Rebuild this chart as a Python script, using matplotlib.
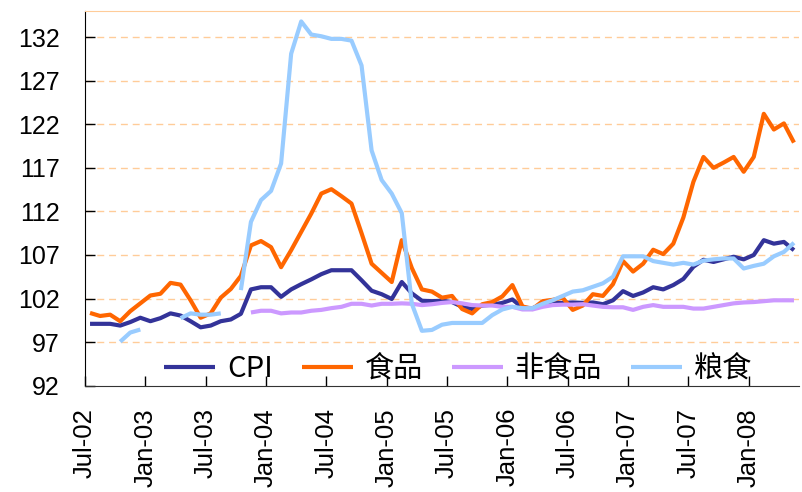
import numpy as np
import matplotlib
matplotlib.use("Agg")
import matplotlib.pyplot as plt

nan = np.nan

# x tick labels, one every 6 months (monthly data Jul-02 .. May-08)
tick_labels = ["Jul-02", "Jan-03", "Jul-03", "Jan-04", "Jul-04", "Jan-05",
               "Jul-05", "Jan-06", "Jul-06", "Jan-07", "Jul-07", "Jan-08"]

cpi = [99.1, 99.1, 99.1, 98.9, 99.3, 99.8, 99.4, 99.75, 100.3, 100.05,
       99.4, 98.7, 98.9, 99.4, 99.6, 100.25, 103.05, 103.3, 103.3, 102.2,
       103.05, 103.65, 104.2, 104.8, 105.25, 105.25, 105.25, 104.1, 102.9, 102.5,
       101.95, 103.9, 102.6, 101.75, 101.7, 101.75, 101.6, 101.05, 100.8, 101.2,
       101.3, 101.5, 101.9, 100.95, 100.9, 101.25, 101.5, 101.5, 101.55, 101.5,
       101.55, 101.35, 101.8, 102.85, 102.3, 102.7, 103.3, 103.05, 103.55, 104.25,
       105.65, 106.45, 106.2, 106.5, 106.8, 106.5, 107.0, 108.7, 108.3, 108.5,
       107.55]

food = [100.35, 100.0, 100.15, 99.4, 100.55, 101.45, 102.35, 102.55, 103.8, 103.6,
        101.8, 99.8, 100.3, 102.1, 103.1, 104.6, 108.1, 108.6, 107.9, 105.6,
        107.55, 109.65, 111.75, 114.05, 114.55, 113.75, 112.9, 109.5, 106.0, 104.95,
        103.9, 108.7, 105.5, 103.05, 102.8, 102.1, 102.3, 100.8, 100.3, 101.35,
        101.6, 102.25, 103.55, 101.1, 100.8, 101.7, 101.85, 102.1, 100.7, 101.2,
        102.5, 102.3, 103.65, 106.3, 105.1, 106.0, 107.6, 107.1, 108.3, 111.3,
        115.4, 118.25, 117.0, 117.6, 118.25, 116.55, 118.25, 123.2, 121.4, 122.1,
        119.9]

nonfood = [nan] * 16 + [
    100.4, 100.6, 100.6, 100.3, 100.4, 100.4, 100.6, 100.7, 100.9, 101.05,
    101.4, 101.4, 101.2, 101.4, 101.4, 101.45, 101.4, 101.25, 101.35, 101.5,
    101.6, 101.45, 101.25, 101.2, 101.2, 101.05, 101.05, 100.75, 100.75, 101.05,
    101.25, 101.3, 101.3, 101.35, 101.2, 101.05, 101.0, 101.0, 100.7, 101.05,
    101.25, 101.05, 101.05, 101.05, 100.85, 100.85, 101.05, 101.25, 101.45, 101.55,
    101.6, 101.7, 101.8, 101.8, 101.8]

grain = [nan, nan, nan, 97.05, 98.1, 98.45, nan, nan, nan, 99.75,
         100.3, 100.15, 100.15, 100.3, nan, 102.97, 110.8, 113.3, 114.35, 117.5,
         130.1, 133.8, 132.3, 132.1, 131.8, 131.8, 131.6, 128.75, 119.0, 115.6,
         114.05, 111.8, 101.4, 98.3, 98.4, 99.0, 99.2, 99.2, 99.2, 99.2,
         100.1, 100.75, 101.05, 100.9, 100.9, 101.4, 101.8, 102.3, 102.8, 102.95,
         103.35, 103.75, 104.5, 106.85, 106.85, 106.85, 106.3, 106.1, 105.9, 106.1,
         105.9, 106.35, 106.5, 106.6, 106.6, 105.45, 105.75, 106.0, 106.85, 107.35,
         108.4]

series_names = ["CPI", "食品", "非食品", "粮食"]
series_colors = ["#333399", "#FF6600", "#CC99FF", "#99CCFF"]

plt.rcParams['font.family'] = ['Liberation Sans', 'Noto Sans CJK SC']

fig = plt.figure(figsize=(8.03, 4.92), dpi=100)
ax = fig.add_axes([85 / 803, 1 - 385.7 / 492, 714 / 803, (385.7 - 11) / 492])

x = np.arange(len(cpi))
for vals, name, col in zip([cpi, food, nonfood, grain], series_names, series_colors):
    ax.plot(x, vals, color=col, lw=3, label=name, solid_joinstyle='round',
            solid_capstyle='butt', zorder=3)

ax.set_xlim(-0.5, len(cpi) - 0.5)
ax.set_ylim(92, 135)
ax.set_yticks(range(92, 133, 5))
ax.set_xticks(np.arange(0, len(cpi), 6)[:len(tick_labels)] - 0.5)
ax.set_xticklabels(tick_labels, rotation=90, va='top', ha='center')
ax.tick_params(axis='both', direction='in', length=7, width=1)
ax.tick_params(axis='y', pad=18, labelsize=18)
ax.tick_params(axis='x', pad=16, labelsize=18.5)

# dashed gridlines
for v in range(97, 133, 5):
    ax.axhline(v, color='#FFCC99', lw=1, ls=(0, (5, 3.5)), zorder=0.9)

ax.spines['right'].set_visible(False)
ax.spines['top'].set_color('#FFCC99')
ax.spines['left'].set_color('black')
ax.spines['bottom'].set_color('#333333')

# white legend box hides the 97 gridline, but not the tick marks
leg = ax.legend(loc='lower center', bbox_to_anchor=(0.523, -0.02), ncol=4,
                frameon=True, facecolor='white', edgecolor='none', framealpha=1,
                fancybox=False, prop={'family': ['Noto Sans CJK SC'], 'size': 21},
                handlelength=1.75, handletextpad=0.4, columnspacing=1.0,
                borderaxespad=0.0, borderpad=0.3)
leg.set_zorder(1.2)

fig.savefig('out.png', dpi=100)
